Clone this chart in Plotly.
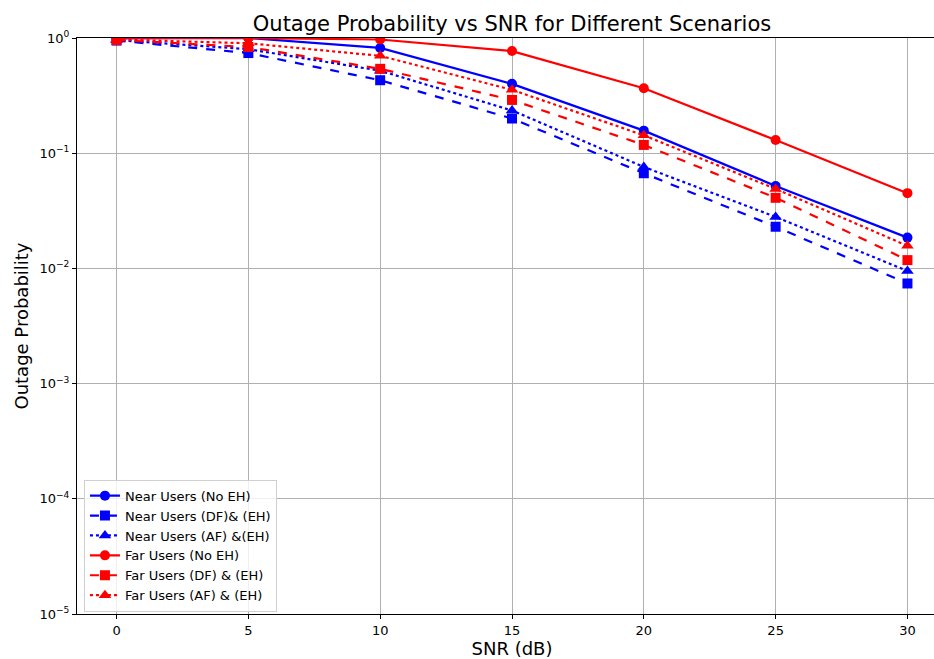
import plotly.graph_objects as go

snr_db = [0, 5, 10, 15, 20, 25, 30]
near_no_eh = [0.99, 1.0, 0.82, 0.40, 0.157, 0.052, 0.0185]
near_df_eh = [0.95, 0.74, 0.43, 0.20, 0.067, 0.023, 0.0074]
near_af_eh = [0.96, 0.80, 0.52, 0.235, 0.076, 0.028, 0.0095]
far_no_eh = [1.0, 1.0, 0.97, 0.77, 0.366, 0.13, 0.045]
far_df_eh = [0.96, 0.835, 0.54, 0.29, 0.118, 0.041, 0.0118]
far_af_eh = [0.97, 0.90, 0.70, 0.355, 0.143, 0.049, 0.0157]

series_names = [
    "Near Users (No EH)",
    "Near Users (DF)& (EH)",
    "Near Users (AF) &(EH)",
    "Far Users (No EH)",
    "Far Users (DF) & (EH)",
    "Far Users (AF) & (EH)",
]
series_values = [near_no_eh, near_df_eh, near_af_eh, far_no_eh, far_df_eh, far_af_eh]
colors = ["#0000ff", "#0000ff", "#0000ff", "#ff0000", "#ff0000", "#ff0000"]
dashes = ["solid", "dash", "dot", "solid", "dash", "dot"]
symbols = ["circle", "square", "triangle-up", "circle", "square", "triangle-up"]
msizes = [10, 10, 11, 10, 10, 11]

y_tickvals = [1e-5, 1e-4, 1e-3, 1e-2, 1e-1, 1]
y_ticktext = ["10<sup>−5</sup>", "10<sup>−4</sup>", "10<sup>−3</sup>",
              "10<sup>−2</sup>", "10<sup>−1</sup>", "10<sup>0</sup>"]
x_tickvals = [0, 5, 10, 15, 20, 25, 30]

fig = go.Figure()
for name, vals, c, d, s, ms in zip(series_names, series_values, colors, dashes, symbols, msizes):
    fig.add_trace(go.Scatter(
        x=snr_db, y=vals, name=name, mode="lines+markers",
        line=dict(color=c, width=2.2, dash=d),
        marker=dict(symbol=s, size=ms, color=c),
    ))

font_family = "DejaVu Sans, Arial, sans-serif"
# The original figure is cropped on the right: the axes extend past the window edge.
fig.update_layout(
    width=947, height=659,
    margin=dict(l=77, r=0, t=38, b=45, autoexpand=False),
    paper_bgcolor="white", plot_bgcolor="white",
    font=dict(family=font_family, color="black", size=13),
    title=dict(text="Outage Probability vs SNR for Different Scenarios",
               x=0.5, xref="paper", xanchor="center",
               y=1, yref="paper", yanchor="bottom", pad=dict(b=7),
               font=dict(size=21, family=font_family, color="black"),
               automargin=False),
    showlegend=True,
    legend=dict(x=0.008, y=0.004, xanchor="left", yanchor="bottom",
                bgcolor="rgba(255,255,255,0.8)", bordercolor="#d0d0d0", borderwidth=1,
                font=dict(size=13, family=font_family), tracegroupgap=0,
                itemwidth=30),
)
fig.update_xaxes(
    range=[-1.5, 31.5], tickvals=x_tickvals, automargin=False,
    showgrid=True, gridcolor="#b0b0b0", gridwidth=1,
    showline=True, linecolor="black", linewidth=1, mirror=True,
    ticks="outside", ticklen=4, tickcolor="black", zeroline=False,
    title=dict(text="SNR (dB)", font=dict(size=18), standoff=8),
    tickfont=dict(size=13),
)
fig.update_yaxes(
    type="log", range=[-5, 0], tickvals=y_tickvals, ticktext=y_ticktext, automargin=False,
    showgrid=True, gridcolor="#b0b0b0", gridwidth=1,
    showline=True, linecolor="black", linewidth=1, mirror=False,
    ticks="outside", ticklen=4, tickcolor="black", zeroline=False,
    title=dict(text="Outage Probability", font=dict(size=18), standoff=6),
    tickfont=dict(size=13),
)

# remove the page's default body margin so the figure starts at the window corner
fig.write_html(
    "out.html",
    config={"displayModeBar": False},
    post_script="document.body.style.margin='0';document.body.style.overflow='hidden';",
)
